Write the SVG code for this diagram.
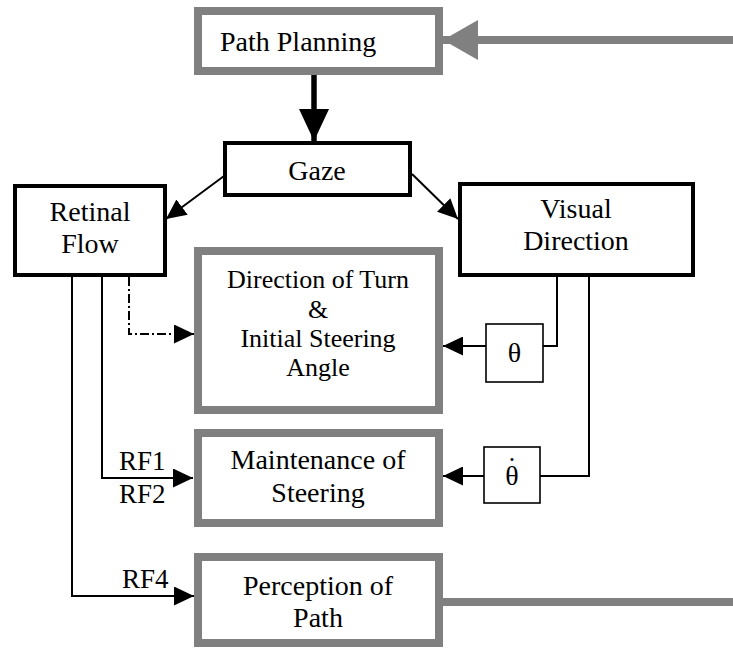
<svg xmlns="http://www.w3.org/2000/svg" width="733" height="650" viewBox="0 0 733 650" font-family="'Liberation Serif', 'Times New Roman', serif">
  <style>
    .bg { fill: #ffffff; }
    .box { fill: #ffffff; stroke: #000000; stroke-width: 4; }
    .gbox { fill: #ffffff; stroke: #808080; stroke-width: 8; }
    .small { fill: #ffffff; stroke: #000000; stroke-width: 1.6; }
    .t { font-family: 'Liberation Serif', 'Times New Roman', serif; font-size: 28px; fill: #000000; }
    .t26 { font-family: 'Liberation Serif', 'Times New Roman', serif; font-size: 26px; fill: #000000; }
    .lbl { font-size: 27px; }
    .mid { text-anchor: middle; }
    .wire { fill: none; stroke: #000000; stroke-width: 2; }
    .dashdot { stroke-dasharray: 9 3 2 3; }
    .thick { fill: none; stroke: #000000; stroke-width: 5.5; }
    .gwire { fill: none; stroke: #808080; stroke-width: 8; }
  </style>
  <defs>
    <marker id="arrow" markerUnits="userSpaceOnUse" viewBox="0 0 20 19" markerWidth="20" markerHeight="19" refX="20" refY="9.5" orient="auto">
      <path d="M0,0 L20,9.5 L0,19 z" fill="#000000"/>
    </marker>
    <marker id="arrowBig" markerUnits="userSpaceOnUse" viewBox="0 0 32 30" markerWidth="32" markerHeight="30" refX="32" refY="15" orient="auto">
      <path d="M0,0 L32,15 L0,30 z" fill="#000000"/>
    </marker>
    <marker id="arrowGray" markerUnits="userSpaceOnUse" viewBox="0 0 35 40" markerWidth="35" markerHeight="40" refX="35" refY="20" orient="auto">
      <path d="M0,0 L35,20 L0,40 z" fill="#808080"/>
    </marker>
  </defs>

  <rect class="bg" x="0" y="0" width="733" height="650"/>

  <!-- connectors and their labels -->
  <g id="connectors">
    <line class="gwire" x1="733" y1="40" x2="443" y2="40" marker-end="url(#arrowGray)"/>
    <line class="thick" x1="314" y1="75" x2="314" y2="141" marker-end="url(#arrowBig)"/>
    <line class="wire" x1="224" y1="176" x2="166" y2="219" marker-end="url(#arrow)"/>
    <line class="wire" x1="412" y1="174" x2="458" y2="219" marker-end="url(#arrow)"/>
    <path class="wire dashdot" d="M129,277 V334 H194" marker-end="url(#arrow)"/>
    <path class="wire" d="M102,277 V478 H193" marker-end="url(#arrow)"/>
    <path class="wire" d="M72,277 V596 H194" marker-end="url(#arrow)"/>
    <path class="wire" d="M557,277 V346 H543"/>
    <line class="wire" x1="486" y1="346" x2="443" y2="346" marker-end="url(#arrow)"/>
    <path class="wire" d="M589,277 V476 H540"/>
    <line class="wire" x1="484" y1="476" x2="443" y2="476" marker-end="url(#arrow)"/>
    <line class="gwire" x1="443" y1="602" x2="733" y2="602"/>
    <text class="t lbl" x="119" y="470">RF1</text>
    <text class="t lbl" x="119" y="503">RF2</text>
    <text class="t lbl" x="122" y="588">RF4</text>
  </g>

  <g id="path-planning">
    <rect class="gbox" x="198" y="11" width="241" height="60"/>
    <text class="t" x="220" y="51">Path Planning</text>
  </g>

  <g id="gaze">
    <rect class="box" x="225" y="143" width="185" height="52"/>
    <text class="t mid" x="317" y="180">Gaze</text>
  </g>

  <g id="retinal-flow">
    <rect class="box" x="15" y="186" width="150" height="89"/>
    <text class="t mid" x="90" y="221">Retinal</text>
    <text class="t mid" x="90" y="253">Flow</text>
  </g>

  <g id="visual-direction">
    <rect class="box" x="460" y="184" width="233" height="91"/>
    <text class="t mid" x="576" y="218">Visual</text>
    <text class="t mid" x="576" y="250">Direction</text>
  </g>

  <g id="direction-of-turn">
    <rect class="gbox" x="198" y="251" width="241" height="159"/>
    <text class="t26 mid" x="318" y="288">Direction of Turn</text>
    <text class="t26 mid" x="318" y="318">&amp;</text>
    <text class="t26 mid" x="318" y="347">Initial Steering</text>
    <text class="t26 mid" x="318" y="376">Angle</text>
  </g>

  <g id="maintenance-of-steering">
    <rect class="gbox" x="198" y="433" width="241" height="90"/>
    <text class="t mid" x="318" y="469">Maintenance of</text>
    <text class="t mid" x="318" y="502">Steering</text>
  </g>

  <g id="perception-of-path">
    <rect class="gbox" x="198" y="557" width="241" height="86"/>
    <text class="t mid" x="318" y="595">Perception of</text>
    <text class="t mid" x="318" y="627">Path</text>
  </g>

  <g id="theta">
    <rect class="small" x="486" y="324" width="57" height="58"/>
    <text class="t mid" x="514.5" y="362">θ</text>
  </g>

  <!-- theta with a dot accent set above it -->
  <g id="theta-dot">
    <rect class="small" x="484" y="447" width="56" height="56"/>
    <text class="t mid" x="512" y="485">θ</text>
    <text class="t mid" x="512" y="476">˙</text>
  </g>
</svg>
